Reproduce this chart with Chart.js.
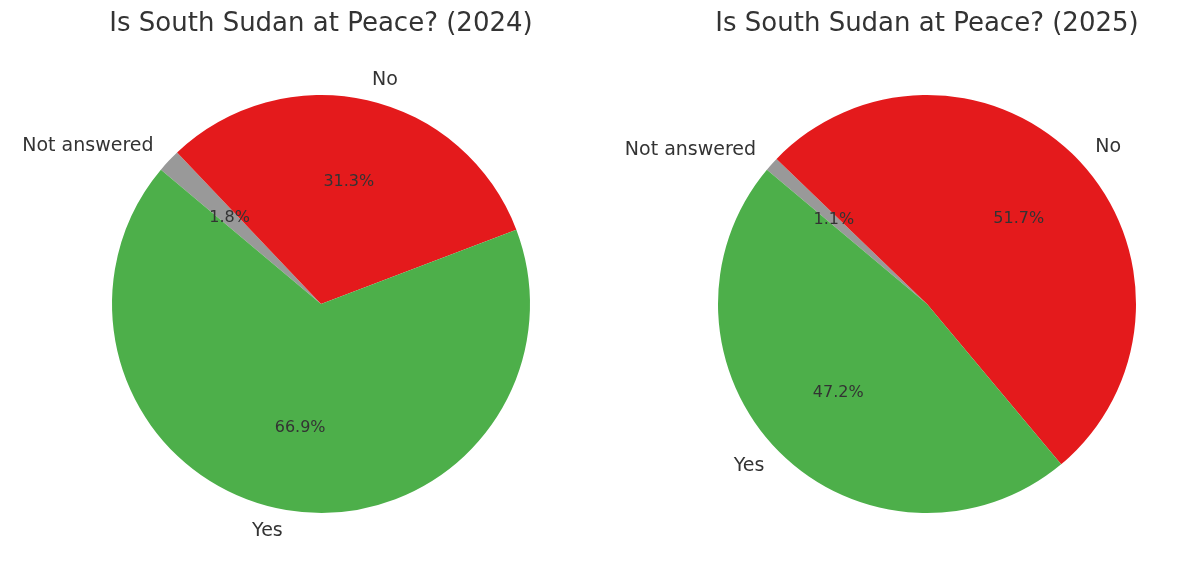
<!DOCTYPE html>
<html><head><meta charset="utf-8">
<script src="https://cdn.jsdelivr.net/npm/chart.js@4/dist/chart.umd.min.js"></script>
<style>
body{margin:0;background:#fff;width:1200px;height:578px;overflow:hidden;position:relative}
.box{position:absolute;top:0;width:600px;height:578px}
</style></head><body>
<div class="box" style="left:0"><canvas id="c2024"></canvas></div>
<div class="box" style="left:600px"><canvas id="c2025"></canvas></div>
<script>
// order reversed vs. the original (Chart.js goes clockwise)
const labels = ['Not answered', 'No', 'Yes'];
const values2024 = [1.8, 31.3, 66.9];
const values2025 = [1.1, 51.7, 47.2];
const colors = ['#999999', '#e41a1c', '#4daf4a'];
const FONT = '"DejaVu Sans", sans-serif';
const TXT = '#333333';

const pieText = {
  id: 'pieText',
  afterDraw(chart, args, opts) {
    const ctx = chart.ctx, a = chart.chartArea;
    const cx = (a.left + a.right) / 2;
    ctx.save();
    ctx.fillStyle = TXT;
    ctx.font = '26px ' + FONT;
    ctx.textAlign = 'center'; ctx.textBaseline = 'middle';
    ctx.fillText(opts.title, cx, 24);
    const data = chart.data.datasets[0].data;
    chart.getDatasetMeta(0).data.forEach((arc, i) => {
      const mid = (arc.startAngle + arc.endAngle) / 2;
      const r = arc.outerRadius;
      const lx = arc.x + Math.cos(mid) * r * 1.1, ly = arc.y + Math.sin(mid) * r * 1.1;
      ctx.font = '19px ' + FONT;
      ctx.textAlign = Math.cos(mid) >= 0 ? 'left' : 'right';
      ctx.fillText(chart.data.labels[i], lx, ly);
      ctx.font = '16px ' + FONT;
      ctx.textAlign = 'center';
      ctx.fillText(data[i].toFixed(1) + '%', arc.x + Math.cos(mid) * r * 0.6, arc.y + Math.sin(mid) * r * 0.6);
    });
    ctx.restore();
  }
};

function makePie(id, values, title, pad) {
  new Chart(document.getElementById(id), {
    type: 'pie',
    data: { labels, datasets: [{ data: values, backgroundColor: colors, borderWidth: 0 }] },
    options: {
      responsive: false, animation: false, rotation: -50,
      layout: { padding: pad },
      plugins: { legend: { display: false }, tooltip: { enabled: false }, pieText: { title } }
    },
    plugins: [pieText]
  });
}
for (const id of ['c2024', 'c2025']) { const c = document.getElementById(id); c.width = 600; c.height = 578; }
makePie('c2024', values2024, 'Is South Sudan at Peace? (2024)', { left: 112, right: 70, top: 95, bottom: 65 });
makePie('c2025', values2025, 'Is South Sudan at Peace? (2025)', { left: 118, right: 64, top: 95, bottom: 65 });
</script>
</body></html>
